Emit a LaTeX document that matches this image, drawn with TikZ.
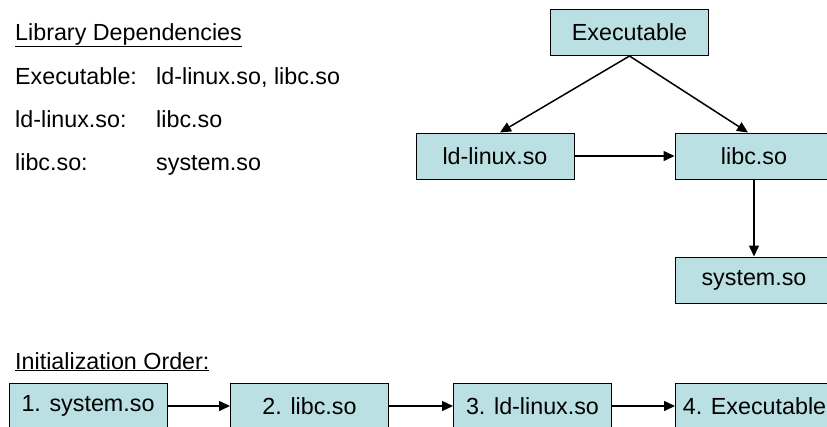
\documentclass[tikz,border=0pt]{standalone}
\usepackage{fontspec}
\setmainfont{Liberation Sans}
\usetikzlibrary{arrows.meta}
\definecolor{boxfill}{RGB}{187,224,227}
\begin{document}
\begin{tikzpicture}[x=1pt,y=-1pt,
  box/.style={draw=black, line width=1pt, fill=boxfill, minimum width=158pt, minimum height=46pt, inner sep=0pt, font=\fontsize{23.3}{27}\selectfont},
  lbl/.style={anchor=base west, inner sep=0pt, font=\fontsize{23.3}{27}\selectfont},
  conn/.style={line width=1.5pt, -{Triangle[length=11pt,width=10pt]}}]
\useasboundingbox (0,0) rectangle (827,426);
\begin{scope}
\clip (0,0) rectangle (827,426);
\node[box] (exe) at (629.5,32.5) {Executable};
\node[box] (ld) at (495,156) {ld-linux.so};
\node[box] (libc) at (754,156) {libc.so};
\node[box] (sys) at (754,280) {system.so};
\node[box] (b1) at (88,406) {1. system.so};
\node[box] (b2) at (309.5,406) {2. libc.so};
\node[box] (b3) at (532.5,406) {3. ld-linux.so};
\node[box] (b4) at (754.5,406) {4. Executable};
\draw[conn] (exe.south) -- ([xshift=5pt]ld.north);
\draw[conn] (exe.south) -- ([xshift=-6pt]libc.north);
\draw[conn] (ld.east) -- (libc.west);
\draw[conn] (libc.south) -- (sys.north);
\draw[conn] (b1.east) -- (b2.west);
\draw[conn] (b2.east) -- (b3.west);
\draw[conn] (b3.east) -- (b4.west);
\node[lbl] (h1) at (15,40) {\underline{Library Dependencies}};
\node[lbl] (l1a) at (15,84) {Executable:};
\node[lbl] (l1b) at (156,84) {ld-linux.so, libc.so};
\node[lbl] (l2a) at (15,127) {ld-linux.so:};
\node[lbl] (l2b) at (156,127) {libc.so};
\node[lbl] (l3a) at (15,170) {libc.so:};
\node[lbl] (l3b) at (156,170) {system.so};
\node[lbl] (h2) at (15,369) {\underline{Initialization Order:}};
\end{scope}
\end{tikzpicture}
\end{document}
